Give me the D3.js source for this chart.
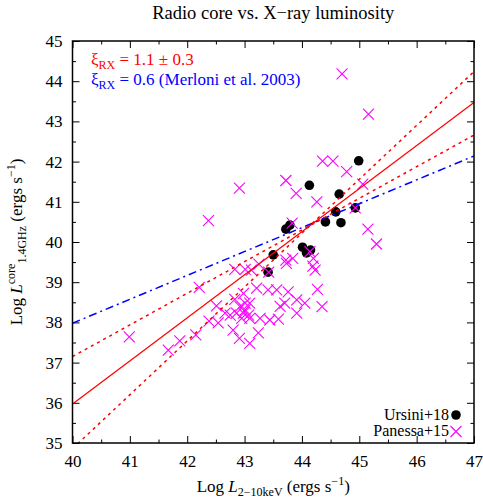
<html>
<head>
<script src="https://d3js.org/d3.v7.min.js"></script>
<style>
  body { margin: 0; background: #fff; }
  text { font-family: "Liberation Serif", "DejaVu Serif", serif; }
</style>
</head>
<body>
<svg id="chart" width="483" height="503"></svg>
<script>
// Ursini+18 (black dots)
const ursiniX = [44.99, 44.13, 44.65, 44.59, 44.93, 44.41, 44.68, 43.79, 43.72, 44.01, 44.08, 44.15, 43.50, 43.41];
const ursiniY = [42.02, 41.41, 41.19, 40.75, 40.85, 40.50, 40.48, 40.42, 40.32, 39.87, 39.73, 39.80, 39.68, 39.25];

// Panessa+15 (magenta crosses)
const panessaX = [44.70, 45.16, 44.36, 44.54, 44.78, 45.06, 43.72, 42.91, 43.90, 44.26,
  44.93, 42.37, 43.83, 45.15, 45.30, 44.14, 44.20, 44.19, 44.23, 43.72,
  43.84, 42.83, 43.01, 43.12, 43.25, 43.42, 43.73, 42.21, 43.21, 43.41,
  43.56, 43.76, 42.98, 44.27, 42.51, 43.70, 43.62, 43.91, 44.05, 44.35,
  43.91, 43.27, 43.44, 43.59, 42.38, 42.54, 42.80, 42.91, 43.24, 43.09,
  42.15, 41.87, 41.67, 40.99, 42.83, 42.92, 43.01, 43.09, 42.86, 42.98,
  43.07, 42.95, 43.09, 42.75, 42.66, 43.01];
const panessaY = [44.18, 43.18, 42.01, 42.01, 41.75, 41.44, 41.53, 41.34, 41.21, 41.00,
  40.85, 40.53, 40.47, 40.32, 39.95, 39.76, 39.59, 39.40, 39.30, 39.55,
  39.59, 39.32, 39.32, 39.30, 39.45, 39.25, 39.47, 38.87, 38.85, 38.81,
  38.81, 38.76, 38.72, 38.82, 38.41, 38.48, 38.40, 38.56, 38.48, 38.39,
  38.23, 38.10, 38.06, 38.08, 38.03, 37.99, 37.81, 37.60, 37.74, 37.48,
  37.69, 37.54, 37.31, 37.64, 38.57, 38.39, 38.48, 38.48, 38.23, 38.23,
  38.18, 38.10, 38.10, 38.18, 38.23, 38.31];

// fit lines, given as end points [logLx, logLr]
const fitLine = [[40, 35.97], [47, 43.47]];
const fitSteep = [[40, 34.86], [47, 44.24]];
const fitShallow = [[40, 37.15], [47, 42.66]];
const merloniLine = [[40, 37.98], [47, 42.14]];

const xTicks = [40, 41, 42, 43, 44, 45, 46, 47];
const yTicks = [35, 36, 37, 38, 39, 40, 41, 42, 43, 44, 45];

const svg = d3.select("#chart");
const pLeft = 72.5, pRight = 474, pTop = 41, pBottom = 443;
const fs = 17, fsSmall = 12;
const serif = '"Liberation Serif", "DejaVu Serif", serif';

const x = d3.scaleLinear().domain([40, 47]).range([pLeft, pRight]);
const y = d3.scaleLinear().domain([35, 45]).range([pBottom, pTop]);

const xMinor = d3.range(40.5, 47, 1);
const yMinor = d3.range(35.5, 45, 1);

// axes with inward ticks on all four sides
function addAxis(axis, tx, ty) {
  const g = svg.append("g").attr("transform", `translate(${tx},${ty})`).call(axis);
  g.select(".domain").remove();
  g.selectAll("line").attr("stroke", "#000").attr("stroke-width", 1);
  g.selectAll("text").attr("font-size", fs).attr("fill", "#000");
  return g;
}
addAxis(d3.axisBottom(x).tickValues(xTicks).tickSizeInner(-7).tickSizeOuter(0).tickPadding(12).tickFormat(d3.format("d")), 0, pBottom);
addAxis(d3.axisBottom(x).tickValues(xMinor).tickSizeInner(-3.5).tickSizeOuter(0).tickFormat(""), 0, pBottom);
addAxis(d3.axisTop(x).tickValues(xTicks).tickSizeInner(-7).tickSizeOuter(0).tickFormat(""), 0, pTop);
addAxis(d3.axisTop(x).tickValues(xMinor).tickSizeInner(-3.5).tickSizeOuter(0).tickFormat(""), 0, pTop);
addAxis(d3.axisLeft(y).tickValues(yTicks).tickSizeInner(-7).tickSizeOuter(0).tickPadding(10).tickFormat(d3.format("d")), pLeft, 0);
addAxis(d3.axisLeft(y).tickValues(yMinor).tickSizeInner(-3.5).tickSizeOuter(0).tickFormat(""), pLeft, 0);
addAxis(d3.axisRight(y).tickValues(yTicks).tickSizeInner(-7).tickSizeOuter(0).tickFormat(""), pRight, 0);
addAxis(d3.axisRight(y).tickValues(yMinor).tickSizeInner(-3.5).tickSizeOuter(0).tickFormat(""), pRight, 0);

svg.append("clipPath").attr("id", "plotclip")
  .append("rect").attr("x", pLeft).attr("y", pTop)
  .attr("width", pRight - pLeft).attr("height", pBottom - pTop);

const plot = svg.append("g").attr("clip-path", "url(#plotclip)");

// Ursini points
const ursini = ursiniX.map((v, i) => ({ x: v, y: ursiniY[i] }));
plot.selectAll("circle.ursini").data(ursini).join("circle")
  .attr("class", "ursini")
  .attr("cx", d => x(d.x)).attr("cy", d => y(d.y))
  .attr("r", 4.8).attr("fill", "#000");

// Panessa crosses
const cs = 5.5;
const panessa = panessaX.map((v, i) => ({ x: v, y: panessaY[i] }));
plot.selectAll("path.panessa").data(panessa).join("path")
  .attr("class", "panessa")
  .attr("d", d => {
    const px = x(d.x), py = y(d.y);
    return `M${px - cs},${py - cs}L${px + cs},${py + cs}M${px - cs},${py + cs}L${px + cs},${py - cs}`;
  })
  .attr("stroke", "#ff00ff").attr("stroke-width", 1.1).attr("fill", "none");

// lines
const lineGen = d3.line().x(d => x(d[0])).y(d => y(d[1]));
plot.append("path").attr("d", lineGen(merloniLine))
  .attr("stroke", "#0000ff").attr("stroke-width", 1.5).attr("fill", "none")
  .attr("stroke-dasharray", "8,4,2,4");
plot.append("path").attr("d", lineGen(fitSteep))
  .attr("stroke", "#ff0000").attr("stroke-width", 1.5).attr("fill", "none")
  .attr("stroke-dasharray", "3,4");
plot.append("path").attr("d", lineGen(fitShallow))
  .attr("stroke", "#ff0000").attr("stroke-width", 1.5).attr("fill", "none")
  .attr("stroke-dasharray", "3,4");
plot.append("path").attr("d", lineGen(fitLine))
  .attr("stroke", "#ff0000").attr("stroke-width", 1.3).attr("fill", "none");

// frame
svg.append("rect").attr("x", pLeft).attr("y", pTop)
  .attr("width", pRight - pLeft).attr("height", pBottom - pTop)
  .attr("fill", "none").attr("stroke", "#000").attr("stroke-width", 1.5);

// title
svg.append("text").attr("x", (pLeft + pRight) / 2).attr("y", 19)
  .attr("text-anchor", "middle").attr("font-size", 18.5)
  .text("Radio core vs. X\u2212ray luminosity");

// top-left key
function xiLabel(yy, color, rest) {
  const t = svg.append("text").attr("x", 91).attr("y", yy)
    .attr("font-size", fs).attr("fill", color);
  t.append("tspan").text("\u03BE");
  t.append("tspan").attr("font-size", fsSmall).attr("dy", 4).text("RX");
  t.append("tspan").attr("dy", -4).text(rest);
}
xiLabel(65, "#ff0000", " = 1.1 \u00B1 0.3");
xiLabel(85, "#0000ff", " = 0.6 (Merloni et al. 2003)");

// bottom-right key
svg.append("text").attr("x", 449).attr("y", 420).attr("text-anchor", "end")
  .attr("font-size", 16).text("Ursini+18");
svg.append("circle").attr("cx", 456).attr("cy", 415).attr("r", 4.8).attr("fill", "#000");
svg.append("text").attr("x", 449).attr("y", 436).attr("text-anchor", "end")
  .attr("font-size", 16).text("Panessa+15");
svg.append("path")
  .attr("d", `M${456 - cs},${431.5 - cs}L${456 + cs},${431.5 + cs}M${456 - cs},${431.5 + cs}L${456 + cs},${431.5 - cs}`)
  .attr("stroke", "#ff00ff").attr("stroke-width", 1.1);

// x axis title
const xl = svg.append("text").attr("x", (pLeft + pRight) / 2).attr("y", 492)
  .attr("text-anchor", "middle").attr("font-size", fs);
xl.append("tspan").text("Log ");
xl.append("tspan").attr("font-style", "italic").text("L");
xl.append("tspan").attr("font-size", fsSmall).attr("dy", 4).text("2\u221210keV");
xl.append("tspan").attr("dy", -4).text(" (ergs s");
xl.append("tspan").attr("font-size", fsSmall).attr("dy", -7).text("\u22121");
xl.append("tspan").attr("dy", 7).text(")");

// y axis title (gnuplot-style: super then subscript, one after the other)
const yl = svg.append("text")
  .attr("transform", `translate(22,${(pTop + pBottom) / 2}) rotate(-90)`)
  .attr("text-anchor", "middle").attr("font-size", fs);
yl.append("tspan").text("Log ");
yl.append("tspan").attr("font-style", "italic").text("L");
yl.append("tspan").attr("font-size", fsSmall).attr("dy", -7).text("core");
yl.append("tspan").attr("font-size", fsSmall).attr("dy", 11).text("1.4GHz");
yl.append("tspan").attr("dy", -4).text(" (ergs s");
yl.append("tspan").attr("font-size", fsSmall).attr("dy", -7).text("\u22121");
yl.append("tspan").attr("dy", 7).text(")");

svg.selectAll("text").style("font-family", serif);
</script>
</body>
</html>
